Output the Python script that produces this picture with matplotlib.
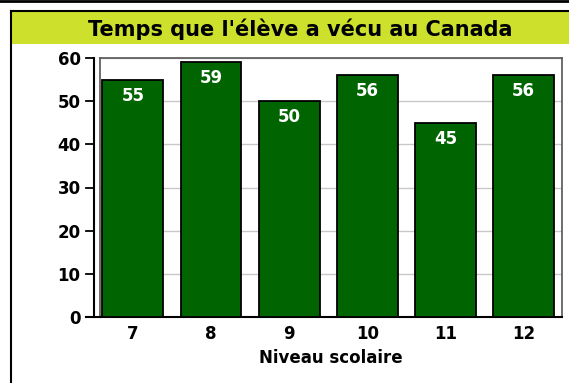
import matplotlib
matplotlib.use("Agg")
import matplotlib.pyplot as plt
from matplotlib.patches import Rectangle
from matplotlib.lines import Line2D

grades = ["7", "8", "9", "10", "11", "12"]
years = [55, 59, 50, 56, 45, 56]
yticks = [0, 10, 20, 30, 40, 50, 60]

W, H = 569, 383
plt.rcParams["font.family"] = ["DejaVu Sans"]
plt.rcParams["font.weight"] = "bold"

fig = plt.figure(figsize=(W / 100, H / 100), dpi=100)

def fx(px):
    return px / W

def fy(py):
    return 1 - py / H

# page border lines
fig.add_artist(Line2D([0, 1], [fy(1), fy(1)], color="black", lw=2))
fig.add_artist(Line2D([fx(11), 1], [fy(11), fy(11)], color="black", lw=1.5))
fig.add_artist(Line2D([fx(11), fx(11)], [fy(11), 0], color="black", lw=1.5))

# title band
fig.add_artist(Rectangle((fx(12), fy(44)), 1 - fx(12), fy(12) - fy(44),
                         transform=fig.transFigure, color="#cde02b", lw=0))
fig.text(fx(300), fy(29), "Temps que l'élève a vécu au Canada",
         ha="center", va="center", fontsize=15, fontweight="bold")

ax = fig.add_axes([fx(100), fy(317), fx(562) - fx(100), fy(58) - fy(317)])
x = range(len(grades))
bars = ax.bar(x, years, width=0.78, color="#006400", edgecolor="black",
              linewidth=1.3, zorder=3)
for rect, v in zip(bars, years):
    ax.annotate(str(v), (rect.get_x() + rect.get_width() / 2, v),
                xytext=(0, -5), textcoords="offset points",
                ha="center", va="top", color="white",
                fontsize=12, fontweight="bold", zorder=4)

ax.set_xlim(-0.42, 5.49)
ax.set_ylim(0, 60)
ax.set_yticks(yticks)
ax.set_xticks(list(x))
ax.set_xticklabels(grades)
ax.grid(axis="y", color="#c8c8c8", lw=1, zorder=0)

for s in ["top", "right"]:
    ax.spines[s].set_color("#555555")
    ax.spines[s].set_linewidth(1.2)
ax.spines["left"].set_visible(False)
ax.add_artist(Line2D([0, 0], [0, 1], transform=ax.transAxes,
                     color="#555555", lw=1.2, clip_on=False))
ax.spines["bottom"].set_color("black")
ax.spines["bottom"].set_linewidth(1.5)

# offset y axis line with outward ticks
ax.add_artist(Line2D([-6 / 462, -6 / 462], [0, 1], transform=ax.transAxes,
                     color="black", lw=1.5, clip_on=False))
ax.tick_params(axis="y", length=0, pad=14, labelsize=12)
for t in yticks:
    ax.add_artist(Line2D([-14 / 462, -6 / 462], [t, t],
                         transform=ax.get_yaxis_transform(),
                         color="black", lw=1.3, clip_on=False))
ax.add_artist(Line2D([-14 / 462, 0], [0, 0], transform=ax.get_yaxis_transform(),
                     color="black", lw=1.5, clip_on=False))
ax.tick_params(axis="x", length=0, pad=6, labelsize=12)
ax.set_xlabel("Niveau scolaire", fontsize=12, fontweight="bold", labelpad=4)

fig.savefig("out.png", dpi=100)
